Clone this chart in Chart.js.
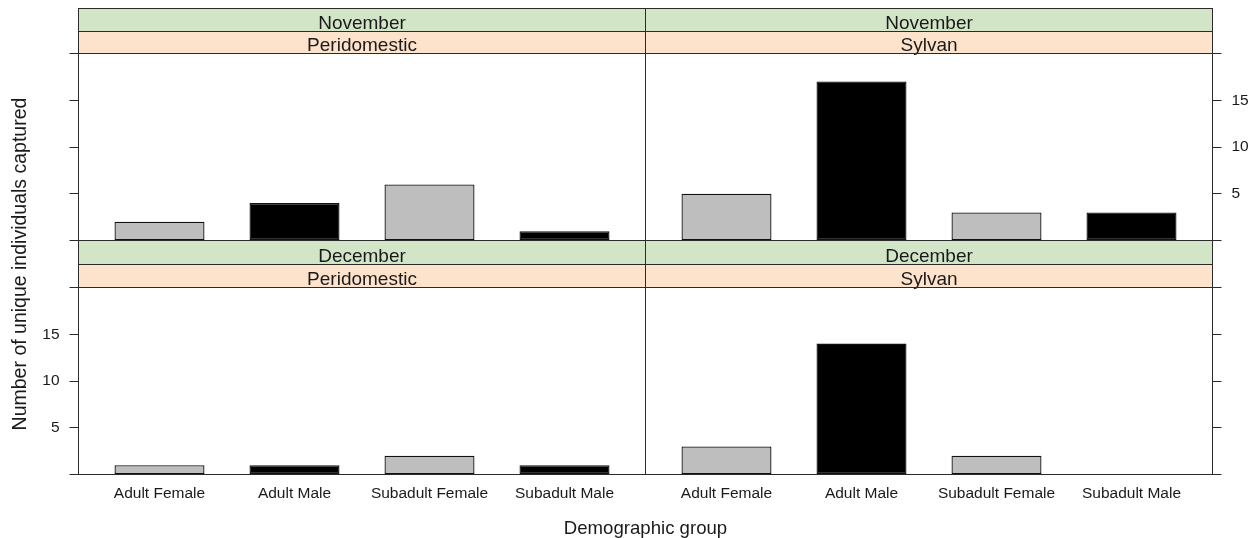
<!DOCTYPE html>
<html>
<head>
<meta charset="utf-8">
<title>Unique individuals captured by demographic group</title>
<script src="https://cdn.jsdelivr.net/npm/chart.js@4.4.1/dist/chart.umd.min.js"></script>
<style>
  html, body { margin: 0; padding: 0; background: #ffffff; }
  #wrap { position: relative; width: 1251px; height: 538px; overflow: hidden; background: #ffffff; }
  #wrap canvas { position: absolute; left: 0; top: 0; }
</style>
</head>
<body>
<div id="wrap">
  <canvas id="panelNovPeri" width="1251" height="538"></canvas>
  <canvas id="panelNovSyl" width="1251" height="538"></canvas>
  <canvas id="panelDecPeri" width="1251" height="538"></canvas>
  <canvas id="panelDecSyl" width="1251" height="538"></canvas>
</div>
<script>
// ---- data ----
const groups = ['Adult Female', 'Adult Male', 'Subadult Female', 'Subadult Male'];
const months = ['November', 'December'];
const habitats = ['Peridomestic', 'Sylvan'];
const novPeridomestic = [2, 4, 6, 1];
const novSylvan = [5, 17, 3, 3];
const decPeridomestic = [1, 1, 2, 1];
const decSylvan = [3, 14, 2, 0];
const yTicks = [0, 5, 10, 15, 20];
const yTickLabels = ['', '5', '10', '15', ''];
const xTitle = 'Demographic group';
const yTitle = 'Number of unique individuals captured';

// ---- styling ----
const FONT = '"Liberation Sans", Arial, Helvetica, sans-serif';
const textColor = '#1a1a1a';
const frameColor = '#2a2a2a';
const stripGreen = '#d2e6c7';
const stripOrange = '#fde3cc';
const barFill = ['#bebebe', '#000000', '#bebebe', '#000000'];

Chart.defaults.font.family = FONT;
Chart.defaults.color = textColor;

// page geometry of the 2 x 2 lattice
const W = 1251, H = 538;
const cols = [{ left: 78.5, right: 645.5 }, { left: 645.5, right: 1212.5 }];
const rows = [
  { greenTop: 8.5, orangeTop: 31.5, top: 53.5, bottom: 240.5 },
  { greenTop: 240.5, orangeTop: 264.5, top: 287.5, bottom: 474.5 }
];

const panels = [
  { canvas: 'panelNovPeri', row: 0, col: 0, month: 0, habitat: 0, values: novPeridomestic },
  { canvas: 'panelNovSyl',  row: 0, col: 1, month: 0, habitat: 1, values: novSylvan },
  { canvas: 'panelDecPeri', row: 1, col: 0, month: 1, habitat: 0, values: decPeridomestic },
  { canvas: 'panelDecSyl',  row: 1, col: 1, month: 1, habitat: 1, values: decSylvan }
];

// strips above each panel and the frame around it
const latticePanel = {
  id: 'latticePanel',
  beforeDraw(chart, args, opts) {
    const ctx = chart.ctx;
    const ca = chart.chartArea;
    const g = rows[opts.row];
    const strips = [
      { top: g.greenTop, bottom: g.orangeTop, fill: stripGreen, text: months[opts.month] },
      { top: g.orangeTop, bottom: g.top, fill: stripOrange, text: habitats[opts.habitat] }
    ];
    ctx.save();
    strips.forEach(s => {
      ctx.fillStyle = s.fill;
      ctx.fillRect(ca.left, s.top, ca.right - ca.left, s.bottom - s.top);
      ctx.strokeStyle = frameColor;
      ctx.lineWidth = 1;
      ctx.strokeRect(ca.left, s.top, ca.right - ca.left, s.bottom - s.top);
      ctx.fillStyle = textColor;
      ctx.font = '19px ' + FONT;
      ctx.textAlign = 'center';
      ctx.textBaseline = 'alphabetic';
      ctx.fillText(s.text, (ca.left + ca.right) / 2, s.bottom - 2.8);
    });
    ctx.restore();
  },
  afterDatasetsDraw(chart) {
    const ctx = chart.ctx;
    const ca = chart.chartArea;
    ctx.save();
    ctx.strokeStyle = frameColor;
    ctx.lineWidth = 1;
    ctx.strokeRect(ca.left, ca.top, ca.right - ca.left, ca.bottom - ca.top);
    ctx.restore();
  },
  afterDraw(chart, args, opts) {
    if (!opts.titles) return;
    const ctx = chart.ctx;
    ctx.save();
    ctx.fillStyle = textColor;
    ctx.textAlign = 'center';
    ctx.textBaseline = 'alphabetic';
    ctx.font = '18.6px ' + FONT;
    ctx.fillText(xTitle, (cols[0].left + cols[1].right) / 2, 533.5);
    ctx.font = '19.5px ' + FONT;
    ctx.translate(25.5, 264);
    ctx.rotate(-Math.PI / 2);
    ctx.fillText(yTitle, 0, 0);
    ctx.restore();
  }
};

panels.forEach((p, idx) => {
  const c = cols[p.col];
  const r = rows[p.row];
  const yOnLeft = p.col === 0;
  const showYLabels = (p.row + p.col) % 2 === 1;
  const showX = p.row === 1;

  const padding = {
    top: r.top,
    left: yOnLeft ? 0 : c.left,
    right: yOnLeft ? W - c.right : 0,
    bottom: showX ? 0 : H - r.bottom
  };

  new Chart(document.getElementById(p.canvas), {
    type: 'bar',
    data: {
      datasets: [{
        data: p.values.map((v, i) => ({ x: i + 1, y: v })),
        backgroundColor: barFill,
        borderColor: '#111111',
        borderWidth: 1.3,
        borderSkipped: false,
        categoryPercentage: 1,
        barPercentage: 2 / 3
      }]
    },
    options: {
      responsive: false,
      devicePixelRatio: 1,
      animation: false,
      events: [],
      layout: { padding },
      plugins: {
        legend: { display: false },
        tooltip: { enabled: false },
        latticePanel: { row: p.row, col: p.col, month: p.month, habitat: p.habitat, titles: idx === 0 }
      },
      scales: {
        x: {
          type: 'linear',
          position: 'bottom',
          display: showX,
          offset: false,
          min: 0.4,
          max: 4.6,
          bounds: 'data',
          grid: { display: false, drawTicks: false, tickLength: 0, offset: false },
          border: { display: false },
          afterBuildTicks: s => { s.ticks = groups.map((g, i) => ({ value: i + 1 })); },
          afterFit: s => { if (showX) { s.height = H - r.bottom; } },
          ticks: {
            autoSkip: false,
            maxRotation: 0,
            minRotation: 0,
            padding: 10,
            color: textColor,
            font: { size: 15.5 },
            callback: v => groups[v - 1]
          }
        },
        y: {
          type: 'linear',
          position: yOnLeft ? 'left' : 'right',
          min: 0,
          max: 20,
          grid: {
            display: true,
            drawOnChartArea: false,
            drawTicks: true,
            tickLength: 9,
            color: frameColor,
            lineWidth: 1
          },
          border: { display: false },
          afterBuildTicks: s => { s.ticks = yTicks.map(v => ({ value: v })); },
          afterFit: s => { s.width = yOnLeft ? c.left : W - c.right; },
          ticks: {
            padding: 10,
            color: textColor,
            font: { size: 15.5 },
            callback: (v, i) => showYLabels ? yTickLabels[yTicks.indexOf(v)] : ''
          }
        }
      }
    },
    plugins: [latticePanel]
  });
});
</script>
</body>
</html>
